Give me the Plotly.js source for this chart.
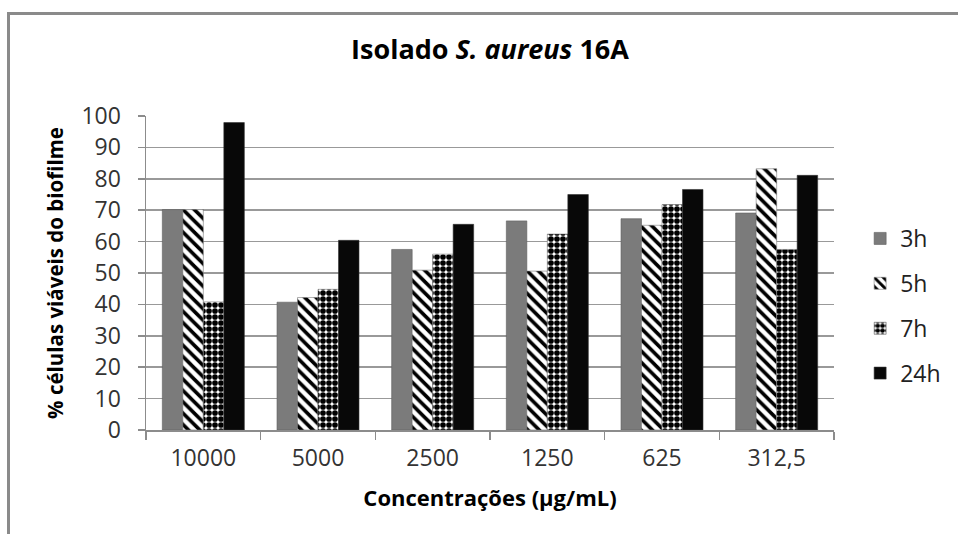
<!DOCTYPE html>
<html>
<head>
<meta charset="utf-8">
<script src="https://cdn.plot.ly/plotly-3.0.1.min.js"></script>
<style>
  html, body { margin: 0; padding: 0; background: #fff; }
  #wrap { position: relative; width: 958px; height: 534px; overflow: hidden; }
  #chart { position: absolute; left: 0; top: 0; width: 958px; height: 534px; }
  #frame { position: absolute; left: 7px; top: 12px; width: 1000px; height: 600px;
           border-left: 3px solid #8a8a8a; border-top: 3px solid #8a8a8a; pointer-events: none; }
</style>
</head>
<body>
<div id="wrap">
  <div id="chart"></div>
  <div id="frame"></div>
</div>
<script>
// Concentration levels on the x axis
const concentrations = ["10000", "5000", "2500", "1250", "625", "312,5"];

// % viable biofilm cells at each exposure time
const series3h  = [70.2, 40.7, 57.5, 66.6, 67.3, 69.1];
const series5h  = [70.2, 42.2, 50.9, 50.6, 65.2, 83.2];
const series7h  = [40.8, 44.8, 56.0, 62.4, 71.8, 57.5];
const series24h = [97.9, 60.4, 65.5, 75.0, 76.6, 81.1];

const seriesNames = ["3h", "5h", "7h", "24h"];

const FONT = "Open Sans, Liberation Sans, sans-serif";

function barTrace(name, values, marker) {
  return {
    type: "bar",
    name: name,
    legendgroup: name,
    x: concentrations,
    y: values,
    marker: marker,
    hoverinfo: "x+y+name"
  };
}

const traces = [
  barTrace(seriesNames[0], series3h, {
    color: "#7b7b7b",
    line: { color: "#5e5e5e", width: 0.6 }
  }),
  barTrace(seriesNames[1], series5h, {
    color: "#ffffff",
    line: { color: "#7a7a7a", width: 0.6 },
    pattern: { shape: "\\", fgcolor: "#000000", bgcolor: "#ffffff", size: 8, solidity: 0.45 }
  }),
  barTrace(seriesNames[2], series7h, {
    color: "#ffffff",
    line: { color: "#7a7a7a", width: 0.6 },
    pattern: { shape: ".", fgcolor: "#000000", bgcolor: "#ffffff", size: 6, solidity: 0.7 }
  }),
  barTrace(seriesNames[3], series24h, {
    color: "#080808",
    line: { color: "#333333", width: 0.6 }
  })
];

const layout = {
  width: 958,
  height: 534,
  paper_bgcolor: "#ffffff",
  plot_bgcolor: "#ffffff",
  margin: { l: 146, r: 122, t: 116, b: 104 },
  barmode: "group",
  bargap: 0.285,
  bargroupgap: 0,
  showlegend: true,
  title: {
    text: "<b>Isolado <i>S. aureus</i> 16A</b>",
    font: { family: FONT, size: 27, color: "#000000" },
    x: 0.5, xref: "paper", xanchor: "center",
    y: 1 - 50 / 534, yref: "container", yanchor: "middle"
  },
  xaxis: {
    type: "category",
    tickson: "boundaries",
    ticks: "outside",
    ticklen: 8,
    tickwidth: 1.5,
    tickcolor: "#8c8c8c",
    showline: true,
    linecolor: "#8c8c8c",
    linewidth: 1.5,
    showgrid: false,
    tickfont: { family: FONT, size: 23, color: "#333333" },
    ticklabelstandoff: 7,
    title: {
      text: "<b>Concentrações (µg/mL)</b>",
      font: { family: FONT, size: 22, color: "#000000" },
      standoff: 18
    }
  },
  yaxis: {
    range: [0, 100],
    dtick: 10,
    tick0: 0,
    ticks: "outside",
    ticklen: 7,
    tickwidth: 1.5,
    tickcolor: "#8c8c8c",
    showline: true,
    linecolor: "#8c8c8c",
    linewidth: 1.5,
    showgrid: true,
    gridcolor: "#999999",
    gridwidth: 1.5,
    zeroline: false,
    tickfont: { family: FONT, size: 23, color: "#333333" },
    ticklabelstandoff: 12,
    title: {
      text: "<b>% células viáveis do biofilme</b>",
      font: { family: FONT, size: 20.5, color: "#000000" },
      standoff: 12
    }
  },
  legend: {
    x: 1.038, xanchor: "left",
    y: 0.395, yanchor: "middle",
    itemwidth: 30,
    tracegroupgap: 12,
    bgcolor: "rgba(0,0,0,0)",
    font: { family: FONT, size: 23, color: "#222222" }
  }
};

Plotly.newPlot("chart", traces, layout, { displayModeBar: false, staticPlot: true });
</script>
</body>
</html>
